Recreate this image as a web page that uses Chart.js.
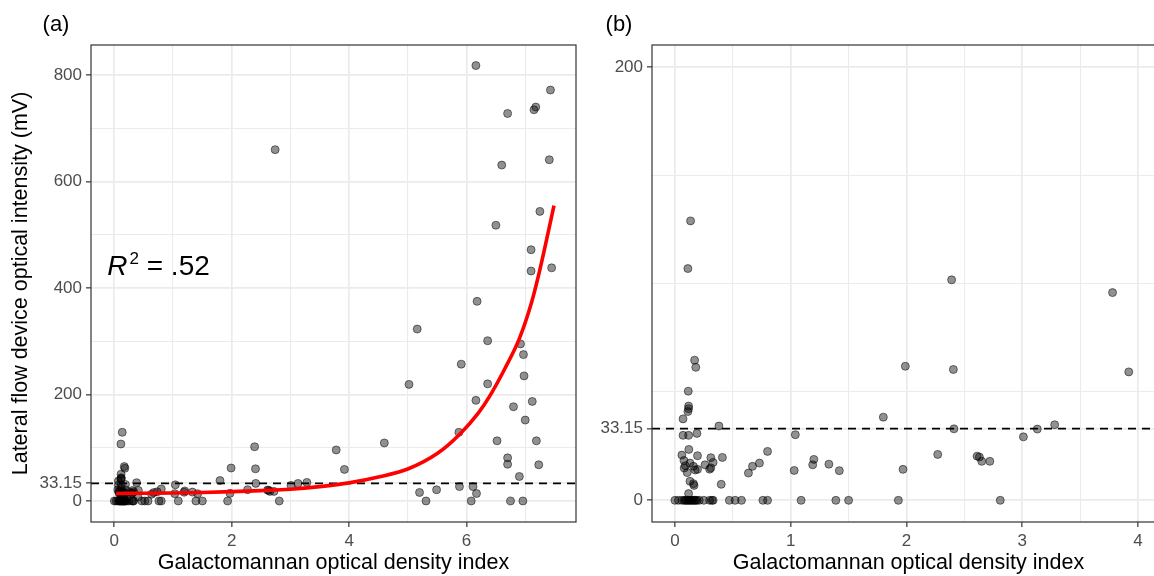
<!DOCTYPE html>
<html>
<head>
<meta charset="utf-8">
<script src="https://cdn.jsdelivr.net/npm/chart.js@4.4.1/dist/chart.umd.min.js"></script>
<style>
  html, body { margin: 0; padding: 0; background: #fff; overflow: hidden; }
  #wrap { position: relative; width: 1154px; height: 576px; overflow: hidden; }
  canvas { position: absolute; top: 0; }
</style>
</head>
<body>
<div id="wrap">
  <canvas id="chart-a" width="590" height="576" style="left:0"></canvas>
  <canvas id="chart-b" width="580" height="576" style="left:590px"></canvas>
</div>
<script>
// galactomannan index (x) vs lateral flow device intensity in mV (y), one entry per sample
const gmIndex = [
  0.135, 0.112, 0.17, 0.18, 0.115, 0.118, 0.118, 0.112, 0.07, 0.38, 0.07, 0.118, 0.19, 0.12, 0.06,
  0.195, 0.41, 0.31, 0.078, 0.13, 0.26, 0.33, 0.09, 0.08, 0.16, 0.175, 0.195, 0.30, 0.31, 0.106,
  0.13, 0.16, 0.165, 0.40, 0.118, 0.635, 0.67, 0.73, 0.80, 1.03, 1.04, 1.20, 1.19, 1.33, 1.42,
  0.0, 0.03, 0.06, 0.08, 0.09, 0.10, 0.11, 0.12, 0.13, 0.14, 0.15, 0.16, 0.17, 0.18, 0.19,
  0.21, 0.25, 0.30, 0.32, 0.33, 0.47, 0.52, 0.575, 0.76, 0.80, 1.09, 1.39, 1.50, 1.93, 2.81,
  5.31, 6.08, 6.75, 6.96,
  2.39, 3.78, 1.99, 2.405, 3.92, 1.80, 2.41, 3.28, 3.13, 3.01, 2.27, 2.61, 2.63, 2.65, 2.72, 1.97,
  2.74, 6.16, 7.43, 6.70, 7.15, 7.18, 6.60, 7.41, 7.25, 6.50, 7.10, 7.10, 7.45, 6.18, 5.16,
  6.36, 6.92, 6.97, 5.91, 6.98, 5.02, 6.36, 6.16, 6.80, 7.12, 7.00, 5.87, 6.52, 7.19, 4.60,
  6.70, 6.70, 7.23, 6.90, 5.20, 5.49, 5.88, 6.11, 6.17
];
const lfdIntensity = [
  129, 107, 64.7, 61.4, 50.4, 43.5, 42.3, 41, 37.6, 34.3, 30, 30, 30.9, 23.5, 20.9,
  20.6, 19.8, 19.7, 18.4, 17.2, 16.4, 17.5, 16, 14.9, 15.7, 14, 14.3, 14.4, 15, 12.8,
  8.8, 7.7, 6.9, 7.4, 3.1, 12.6, 15.7, 17.2, 22.6, 13.8, 30.3, 18.9, 16.4, 16.7, 13.7,
  0, 0, 0, 0, 0, 0, 0, 0, 0, 0, 0, 0, 0, 0, 0,
  0, 0, 0, 0, 0, 0, 0, 0, 0, 0, 0, 0, 0, 0, 0,
  0, 0, 0, 0,
  101.8, 95.9, 61.9, 60.4, 59.3, 38.4, 33.0, 34.9, 32.9, 29.3, 21.2, 20.4, 20, 18, 18, 14.3,
  660, 818, 772, 728, 735, 740, 631, 641, 544, 518, 472, 432, 438, 375, 323,
  301, 295, 275, 257, 235, 219, 220, 189, 177, 187, 152, 129, 113, 113, 109,
  81, 69, 68, 46, 16, 21, 27, 27, 14
];

// exponential fit
const fitX = [0.03, 0.5, 1, 1.5, 2, 2.5, 3, 3.5, 4, 4.5, 5, 5.5, 5.88, 6.2, 6.4, 6.65, 6.9, 7.1, 7.24, 7.49];
const fitY = [14, 14.5, 15, 16, 17.5, 19.5, 22, 27, 34, 45, 60, 89, 125, 165, 198, 248, 305, 370, 430, 555];
const r2Label = '.52';

const cutoff = 33.15;

// axis breaks: gridlines at every break, labels only on the label lists
const xBreaksA = [0, 1, 2, 3, 4, 5, 6, 7];
const xLabelsA = [0, 2, 4, 6];
const yBreaksA = [0, 33.15, 100, 200, 300, 400, 500, 600, 700, 800];
const yLabelsA = [0, 33.15, 200, 400, 600, 800];
const xBreaksB = [0, 0.5, 1, 1.5, 2, 2.5, 3, 3.5, 4];
const xLabelsB = [0, 1, 2, 3, 4];
const yBreaksB = [0, 33.15, 50, 100, 150, 200];
const yLabelsB = [0, 33.15, 200];

const family = '"Liberation Sans", Arial, sans-serif';
const points = gmIndex.map((x, i) => ({ x, y: lfdIntensity[i] }));

function gridFor(majors) {
  return {
    color: '#ebebeb',
    lineWidth: c => (c.tick && majors.includes(c.tick.value)) ? 1.7 : 1.1,
    tickColor: c => (c.tick && majors.includes(c.tick.value)) ? '#333333' : 'rgba(0,0,0,0)',
    tickWidth: 1.2,
    tickLength: 5,
    drawTicks: true
  };
}

function axis(min, max, breaks, labels, size, isX, title) {
  return {
    type: 'linear', min, max,
    afterBuildTicks: s => { s.ticks = breaks.map(v => ({ value: v })); },
    afterFit: s => { if (isX) s.height = size; else s.width = size; },
    grid: gridFor(labels),
    border: { display: false },
    ticks: {
      autoSkip: false, maxRotation: 0, padding: 4,
      color: '#4d4d4d', font: { family, size: 17 },
      callback: v => labels.includes(v) ? String(v) : ''
    },
    title: title ? {
      display: true, text: title, color: '#000',
      font: { family, size: 21.5 },
      padding: isX ? { top: 0, bottom: 0 } : { top: 8, bottom: 0 }
    } : { display: false }
  };
}

const panelFrame = {
  id: 'panelFrame',
  afterDraw(chart, args, opts) {
    const { ctx, chartArea: a } = chart;
    ctx.save();
    ctx.strokeStyle = '#333333';
    ctx.lineWidth = 1.2;
    ctx.strokeRect(a.left, a.top, a.right - a.left, a.bottom - a.top);
    ctx.fillStyle = '#000';
    ctx.font = '22px ' + family;
    ctx.textAlign = 'center';
    ctx.textBaseline = 'middle';
    ctx.fillText(opts.tag, opts.tagX, 25);
    ctx.restore();
  }
};

const r2Text = {
  id: 'r2Text',
  afterDatasetsDraw(chart) {
    const { ctx } = chart;
    const x0 = chart.scales.x.getPixelForValue(-0.12);
    const base = chart.scales.y.getPixelForValue(424);
    ctx.save();
    ctx.fillStyle = '#000';
    ctx.textBaseline = 'alphabetic';
    ctx.textAlign = 'left';
    ctx.font = 'italic 28px ' + family;
    ctx.fillText('R', x0, base);
    let x = x0 + ctx.measureText('R').width + 2;
    ctx.font = '17px ' + family;
    ctx.fillText('2', x, base - 11);
    x += ctx.measureText('2').width;
    ctx.font = '28px ' + family;
    ctx.fillText(' = ' + r2Label, x, base);
    ctx.restore();
  }
};

function scatterSet() {
  return {
    data: points,
    backgroundColor: 'rgba(0,0,0,0.43)',
    borderColor: 'rgba(0,0,0,0.5)',
    borderWidth: 1,
    pointRadius: 4,
    clip: 0
  };
}

function cutoffSet(xMin, xMax) {
  return {
    data: [{ x: xMin, y: cutoff }, { x: xMax, y: cutoff }],
    showLine: true, borderColor: '#000', borderWidth: 1.7, borderDash: [8, 6], pointRadius: 0, clip: 0
  };
}

const common = {
  responsive: false,
  animation: false,
  events: [],
  plugins: { legend: { display: false }, tooltip: { enabled: false } }
};

const xMinA = -0.397, xMaxA = 7.865;
new Chart(document.getElementById('chart-a'), {
  type: 'scatter',
  data: {
    datasets: [
      {
        data: fitX.map((x, i) => ({ x, y: fitY[i] })),
        showLine: true, borderColor: '#ff0000', borderWidth: 3.6,
        pointRadius: 0, cubicInterpolationMode: 'monotone', clip: 0
      },
      cutoffSet(xMinA, xMaxA),
      scatterSet()
    ]
  },
  options: {
    ...common,
    layout: { padding: { left: 0, right: 14, top: 45, bottom: 0 } },
    scales: {
      x: axis(xMinA, xMaxA, xBreaksA, xLabelsA, 54, true, 'Galactomannan optical density index'),
      y: axis(-39.5, 856.6, yBreaksA, yLabelsA, 91, false, 'Lateral flow device optical intensity (mV)')
    },
    plugins: { ...common.plugins, panelFrame: { tag: '(a)', tagX: 56 } }
  },
  plugins: [panelFrame, r2Text]
});

const xMinB = -0.198, xMaxB = 4.233;
new Chart(document.getElementById('chart-b'), {
  type: 'scatter',
  data: { datasets: [cutoffSet(xMinB, xMaxB), scatterSet()] },
  options: {
    ...common,
    layout: { padding: { left: 0, right: 4, top: 45, bottom: 0 } },
    scales: {
      x: axis(xMinB, xMaxB, xBreaksB, xLabelsB, 54, true, 'Galactomannan optical density index'),
      y: axis(-10.0, 210.2, yBreaksB, yLabelsB, 62, false, null)
    },
    plugins: { ...common.plugins, panelFrame: { tag: '(b)', tagX: 29 } }
  },
  plugins: [panelFrame]
});
</script>
</body>
</html>
